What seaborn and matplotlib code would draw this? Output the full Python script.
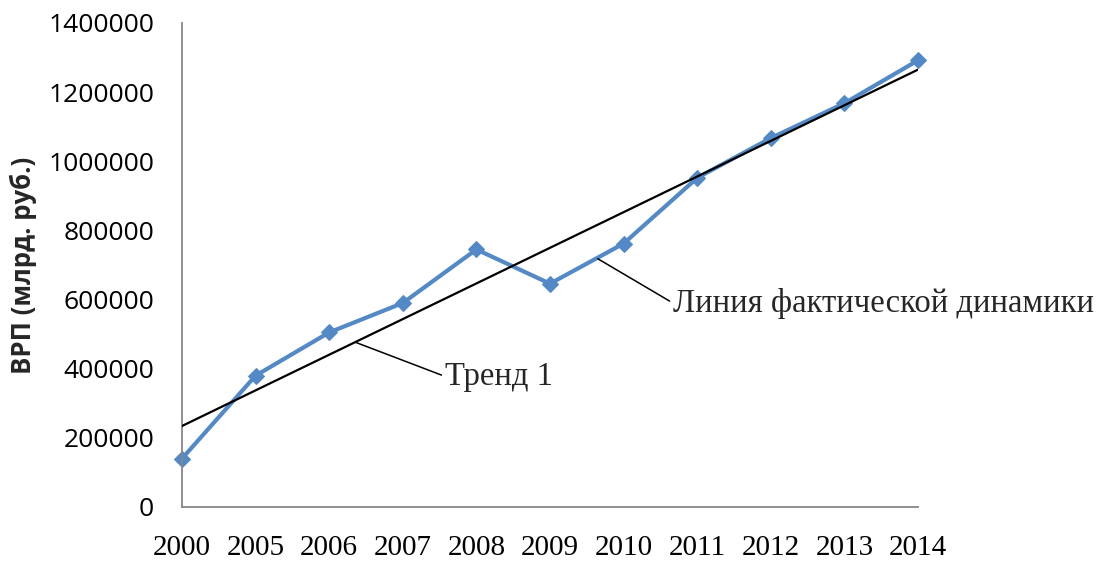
import numpy as np
import pandas as pd
import matplotlib
matplotlib.use("Agg")
import matplotlib.pyplot as plt
import seaborn as sns

years = ["2000", "2005", "2006", "2007", "2008", "2009", "2010", "2011", "2012", "2013", "2014"]
grp = [140000, 380000, 505000, 590000, 745000, 646000, 762000, 952000, 1067000, 1168000, 1292000]
y_ticks = [0, 200000, 400000, 600000, 800000, 1000000, 1200000, 1400000]
y_label = "ВРП (млрд. руб.)"
trend_label = "Тренд 1"
fact_label = "Линия фактической динамики"

sns.set_style("white")
plt.rcParams["font.family"] = ["Open Sans", "DejaVu Sans"]

df = pd.DataFrame({"idx": np.arange(len(years)), "year": years, "grp": grp})

fig = plt.figure(figsize=(11, 5.63), dpi=100)
ax = fig.add_axes([182 / 1100, 1 - 507 / 563, 736 / 1100, 484 / 563])

# trend (linear regression of the actual values)
sns.regplot(data=df, x="idx", y="grp", scatter=False, ci=None, ax=ax,
            line_kws=dict(color="black", lw=1.6, zorder=3))

sns.lineplot(data=df, x="idx", y="grp", ax=ax, color="#5389c6", lw=3,
             marker="D", markersize=8, markeredgecolor="#5389c6", zorder=2,
             clip_on=False)

ax.set_xlim(0, len(years) - 1)
ax.set_ylim(0, 1400000)
ax.set_xticks(df["idx"])
ax.set_xticklabels(years, family="Liberation Serif", fontsize=21)
ax.set_yticks(y_ticks)
ax.set_yticklabels([str(v) for v in y_ticks], fontsize=19)
ax.set_xlabel("")
ax.set_ylabel(y_label, fontsize=18.5, fontweight="bold", labelpad=8)

for s in ["top", "right"]:
    ax.spines[s].set_visible(False)
for s in ["left", "bottom"]:
    ax.spines[s].set_color("#878787")
    ax.spines[s].set_linewidth(1.3)
ax.tick_params(axis="both", direction="out", length=6, width=1.3, color="#878787",
               labelcolor="black")
ax.tick_params(axis="y", pad=14)
ax.tick_params(axis="x", pad=14)

ax.annotate(trend_label, xy=(2.35, 477000), xytext=(3.57, 378000),
            fontsize=23.5, family="Liberation Serif", ha="left", va="center",
            arrowprops=dict(arrowstyle="-", color="black", lw=1.1,
                            shrinkA=0, shrinkB=0, relpos=(0, 0.5)))
ax.annotate(fact_label, xy=(5.65, 718000), xytext=(6.67, 590000),
            fontsize=23.5, family="Liberation Serif", ha="left", va="center",
            annotation_clip=False,
            arrowprops=dict(arrowstyle="-", color="black", lw=1.1,
                            shrinkA=0, shrinkB=0, relpos=(0, 0.5)))

fig.savefig("out.png", dpi=100)
